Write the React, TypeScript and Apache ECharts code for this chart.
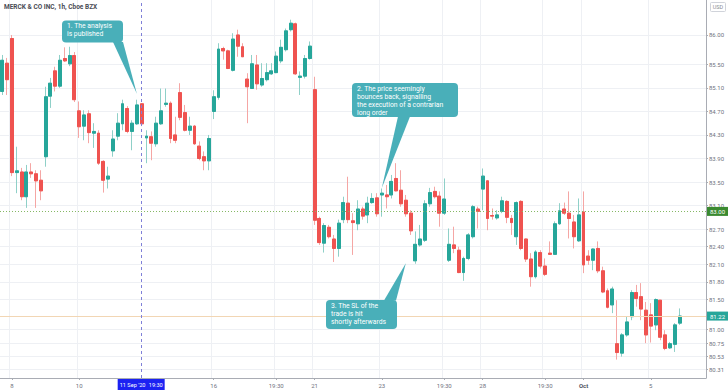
import React, { useEffect, useRef } from 'react';
import * as echarts from 'echarts';

// ---- data (1h candles, MRK, Sep 4 2020 -> Oct 5 2020) ----
const opens = [
  85.04, 85.52, 85.94, 83.66, 83.67, 83.25, 83.67, 83.64, 83.53, 83.93,
  84.96, 85.39, 85.13, 85.60, 85.51, 85.65, 84.71, 84.45, 84.66, 84.33,
  84.33, 83.85, 83.55, 84.03, 84.28, 84.49, 84.75, 84.36, 84.49, 84.83,
  84.25, 84.27, 84.15, 84.49, 84.82, 84.84, 84.30, 85.02, 84.68, 84.38,
  84.45, 84.11, 83.93, 83.86, 84.70, 84.94, 85.77, 85.73, 85.40, 86.00,
  85.80, 85.25, 85.09, 85.49, 85.15, 85.24, 85.34, 85.36, 85.56, 85.75,
  86.09, 86.19, 85.28, 85.30, 85.60, 85.07, 82.88, 82.46, 82.73, 82.53,
  82.37, 82.86, 83.14, 82.84, 82.79, 83.04, 82.94, 83.15, 83.23, 83.28,
  83.28, 83.28, 83.56, 83.36, 83.19, 82.97, 82.16, 82.43, 82.51, 83.13,
  83.34, 83.26, 82.97, 82.17, 82.43, 82.34, 81.96, 82.20, 82.57, 83.04,
  83.38, 83.52, 82.93, 82.89, 83.00, 83.17, 82.88, 82.57, 83.17, 82.53,
  82.19, 81.89, 82.30, 82.07, 82.29, 82.27, 82.79, 83.04, 82.97, 82.82,
  82.50, 82.99, 82.24, 82.17, 82.37, 81.99, 81.65, 81.41, 80.75, 80.59,
  80.90, 81.21, 81.62, 81.55, 81.32, 81.24, 81.07, 81.49, 80.90, 80.68,
  80.74, 81.10,
];
const closes = [
  85.57, 85.24, 83.66, 83.69, 83.25, 83.67, 83.64, 83.52, 83.35, 84.95,
  85.18, 85.13, 85.57, 85.56, 85.65, 84.90, 84.44, 84.64, 84.34, 84.36,
  83.82, 83.53, 83.60, 84.23, 84.50, 84.83, 84.36, 84.50, 84.81, 84.49,
  84.28, 84.16, 84.50, 84.71, 84.84, 84.24, 84.21, 84.60, 84.38, 84.45,
  84.15, 83.90, 83.86, 84.24, 84.95, 85.76, 85.73, 85.43, 85.93, 85.81,
  85.63, 85.12, 85.51, 85.17, 85.26, 85.36, 85.39, 85.64, 85.79, 86.07,
  86.20, 85.34, 85.30, 85.60, 85.81, 82.85, 82.47, 82.76, 82.57, 82.37,
  82.80, 83.15, 82.86, 82.81, 83.04, 82.92, 83.14, 83.22, 82.96, 83.31,
  83.25, 83.51, 83.35, 83.13, 82.96, 82.67, 82.44, 82.53, 83.13, 83.32,
  83.25, 82.97, 83.21, 82.44, 82.37, 81.96, 82.20, 82.60, 83.08, 83.00,
  83.60, 82.88, 82.92, 82.94, 83.18, 82.90, 82.81, 83.15, 82.37, 82.19,
  81.89, 82.31, 82.07, 81.93, 82.27, 82.79, 83.01, 82.97, 82.88, 82.57,
  82.94, 82.09, 82.17, 82.36, 81.99, 81.63, 81.37, 81.68, 80.60, 80.90,
  81.12, 81.62, 81.52, 81.34, 80.90, 81.05, 81.50, 80.86, 80.67, 80.75,
  81.07, 81.22,
];
const lows = [
  84.98, 84.98, 83.60, 83.31, 83.19, 83.06, 83.57, 83.06, 83.19, 83.76,
  84.76, 85.04, 85.10, 85.54, 85.47, 84.86, 84.25, 84.21, 84.16, 84.08,
  83.79, 83.32, 83.39, 83.93, 84.21, 84.38, 84.33, 84.04, 84.47, 84.45,
  83.82, 83.87, 84.10, 84.47, 84.78, 84.16, 84.16, 84.55, 84.36, 84.30,
  84.13, 83.87, 83.70, 83.70, 84.57, 84.90, 85.58, 85.42, 85.38, 85.63,
  85.63, 84.50, 85.09, 85.07, 85.12, 85.21, 85.32, 85.35, 85.52, 85.72,
  86.06, 85.32, 84.98, 85.26, 85.58, 82.77, 82.43, 82.30, 82.54, 82.14,
  82.23, 82.80, 82.80, 82.26, 82.68, 82.86, 82.80, 83.13, 82.91, 82.91,
  83.05, 83.22, 83.34, 83.08, 82.91, 82.60, 82.11, 82.40, 82.48, 83.08,
  83.22, 82.74, 82.94, 82.14, 82.29, 81.95, 81.82, 82.17, 82.54, 82.71,
  83.02, 82.68, 82.86, 82.86, 82.97, 82.80, 82.60, 82.43, 82.34, 82.14,
  81.72, 81.86, 82.03, 81.90, 82.27, 82.26, 82.77, 82.94, 82.54, 82.37,
  82.48, 81.95, 82.09, 82.00, 81.95, 81.61, 81.35, 81.27, 80.48, 80.53,
  80.87, 81.15, 81.38, 81.15, 80.76, 80.77, 80.98, 80.81, 80.64, 80.66,
  80.61, 81.07,
];
const highs = [
  85.66, 85.61, 86.00, 84.10, 83.74, 83.79, 83.82, 83.70, 83.70, 85.12,
  85.27, 85.46, 85.66, 85.79, 85.80, 85.71, 84.87, 84.72, 84.72, 84.50,
  84.38, 83.87, 83.76, 84.38, 84.67, 84.90, 84.79, 84.55, 84.90, 84.84,
  84.38, 84.36, 84.61, 85.09, 85.09, 84.87, 84.61, 85.18, 84.81, 84.61,
  84.47, 84.19, 84.02, 84.30, 85.06, 85.86, 85.80, 85.75, 86.03, 86.09,
  85.86, 85.35, 85.66, 85.66, 85.52, 85.52, 85.52, 85.72, 85.92, 86.11,
  86.26, 86.21, 85.38, 85.66, 85.89, 85.29, 82.91, 82.80, 82.77, 82.60,
  82.86, 83.25, 83.59, 82.97, 83.19, 83.08, 83.25, 83.31, 83.31, 83.39,
  83.45, 83.62, 83.82, 83.70, 83.28, 83.02, 82.66, 82.77, 83.19, 83.40,
  83.42, 83.34, 83.56, 82.71, 82.74, 82.40, 82.23, 82.63, 83.11, 83.08,
  83.73, 83.53, 83.05, 83.02, 83.25, 83.19, 82.94, 83.17, 83.19, 82.54,
  82.29, 82.34, 82.34, 82.20, 82.49, 82.83, 83.14, 83.15, 83.34, 82.94,
  83.22, 83.34, 82.34, 82.37, 82.49, 82.06, 81.69, 81.72, 81.49, 80.93,
  81.21, 81.66, 81.75, 81.78, 81.46, 81.44, 81.52, 81.49, 80.98, 80.78,
  81.10, 81.35,
];
const emptySlots = 5;

const xTickIndex = [2, 16, 44, 57, 65, 79, 92, 100, 113, 121, 135];
const xTickLabels = ['8', '10', '16', '19:30', '21', '23', '19:30', '28', '19:30', 'Oct', '5'];
const yTickValues = [86.0, 85.5, 85.1, 84.7, 84.3, 83.9, 83.5, 83.1, 82.7, 82.4, 82.1, 81.8, 81.5, 81.0, 80.75, 80.53, 80.31];
const yMin = 80.167;
const yMax = 86.595;

const alertLevel = 83.0;
const lastPrice = 81.22;
const cursorIndex = 29;
const cursorDate = "11 Sep '20";
const cursorTime = '19:30';
const chartTitle = 'MERCK & CO INC, 1h, Cboe BZX';
const currency = 'USD';

const calloutTexts = [
  '1. The analysis\nis published',
  '2. The price seemingly\nbounces back, signalling\nthe execution of a contrarian\nlong order',
  '3. The SL of the\ntrade is hit\nshortly afterwards',
];
const calloutAnchors: [number, number][] = [[28, 85.0], [79, 83.4], [84, 82.12]];

// layout of callout boxes (pixels)
const calloutBoxes = [
  { x: 62, y: 20.5, w: 61, h: 22, b0: 113, b1: 123, side: 'bottom' },
  { x: 352, y: 83, w: 106, h: 34, b0: 398, b1: 410, side: 'bottom' },
  { x: 326, y: 300, w: 71, h: 29, b0: 384, b1: 396, side: 'top' },
];

const UP = '#26a69a';
const DOWN = '#ef5350';
const CALLOUT = '#49afb9';

export default function App() {
  const ref = useRef<HTMLDivElement>(null);

  useEffect(() => {
    document.body.style.margin = '0';
    if (!ref.current) return;
    const chart = echarts.init(ref.current, undefined, { renderer: 'svg' });
    const n = opens.length + emptySlots;
    const cats = Array.from({ length: n }, (_, i) => String(i));
    const tickMap = new Map<number, string>(xTickIndex.map((v, k) => [v, xTickLabels[k]]));
    const isTick = (i: number) => tickMap.has(i);

    const wickData = opens.map((o, i) => [o, closes[i], lows[i], highs[i]]);
    const bodyData = opens.map((o, i) => [o, closes[i], Math.min(o, closes[i]), Math.max(o, closes[i])]);

    chart.setOption({
      animation: false,
      backgroundColor: '#ffffff',
      textStyle: { fontFamily: 'Roboto' },
      grid: { left: 0, right: 22, top: 0, bottom: 13, containLabel: false },
      xAxis: {
        type: 'category',
        data: cats,
        boundaryGap: true,
        axisLine: { lineStyle: { color: '#a9acb4', width: 1 } },
        axisTick: { show: true, alignWithLabel: true, interval: (i: number) => isTick(i), length: 2, lineStyle: { color: '#a9acb4' } },
        axisLabel: {
          interval: (i: number) => isTick(i),
          formatter: (v: string) => {
            const t = tickMap.get(Number(v)) || '';
            return t === 'Oct' ? '{b|Oct}' : t;
          },
          fontSize: 6,
          color: '#707380',
          margin: 4,
          rich: { b: { fontSize: 6, fontWeight: 'bold', color: '#50535e' } },
        },
        splitLine: { show: true, interval: (i: number) => isTick(i), lineStyle: { color: '#eef0f4', width: 1 } },
      },
      yAxis: {
        type: 'value',
        position: 'right',
        min: yMin,
        max: yMax,
        axisLine: { show: true, lineStyle: { color: '#a9acb4', width: 1 } },
        axisTick: { show: true, length: 2, customValues: yTickValues, lineStyle: { color: '#a9acb4' } },
        axisLabel: {
          customValues: yTickValues,
          formatter: (v: number) => v.toFixed(2),
          fontSize: 6,
          color: '#707380',
          margin: 3,
        },
        splitLine: { show: true, lineStyle: { color: '#eef0f4', width: 1 } },
      },
      series: [
        {
          type: 'candlestick',
          name: 'wick',
          data: wickData,
          barWidth: 3.4,
          silent: true,
          itemStyle: {
            color: 'rgba(0,0,0,0)',
            color0: 'rgba(0,0,0,0)',
            borderColor: '#8fd0c8',
            borderColor0: '#f5a6a4',
            borderWidth: 1,
          },
        },
        {
          type: 'candlestick',
          name: 'body',
          data: bodyData,
          barWidth: 3.4,
          silent: true,
          itemStyle: { color: UP, color0: DOWN, borderColor: UP, borderColor0: DOWN, borderWidth: 1 },
          markLine: {
            symbol: 'none',
            silent: true,
            animation: false,
            data: [
              {
                yAxis: alertLevel,
                lineStyle: { color: '#86b865', type: [1, 2], width: 1 },
                label: {
                  show: true, position: 'end', formatter: alertLevel.toFixed(2), backgroundColor: '#3a8a30',
                  color: '#ffffff', fontSize: 6, padding: [2, 3, 1, 3], distance: 1,
                },
              },
              {
                yAxis: lastPrice,
                lineStyle: { color: '#f2d6b4', type: 'solid', width: 1 },
                label: {
                  show: true, position: 'end', formatter: lastPrice.toFixed(2), backgroundColor: UP,
                  color: '#ffffff', fontSize: 6, padding: [2, 3, 1, 3], distance: 1,
                },
              },
              {
                xAxis: String(cursorIndex),
                lineStyle: { color: '#7f80d8', type: [3, 3], width: 1 },
                label: { show: false },
              },
            ],
          },
        },
      ],
    });

    const px = (i: number, v: number) => chart.convertToPixel({ xAxisIndex: 0, yAxisIndex: 0 }, [i, v]) as number[];
    const graphics: any[] = [];
    graphics.push({
      type: 'text', x: 4, y: 3, z: 100,
      style: { text: chartTitle, fontSize: 6.5, fontWeight: 'bold', fontFamily: 'Roboto', fill: '#4a4c55', align: 'left', verticalAlign: 'top' },
    });
    graphics.push({
      type: 'rect', z: 100, shape: { x: 710.5, y: 2.5, width: 15, height: 9, r: 1 },
      style: { fill: '#fff', stroke: '#d0d3da', lineWidth: 1 },
    });
    graphics.push({
      type: 'text', z: 101, x: 718, y: 7,
      style: { text: currency, fontSize: 5.5, fontFamily: 'Roboto', fill: '#8a8d96', align: 'center', verticalAlign: 'middle' },
    });

    calloutBoxes.forEach((b, k) => {
      const tip = px(calloutAnchors[k][0], calloutAnchors[k][1]);
      const by = b.side === 'bottom' ? b.y + b.h - 0.5 : b.y + 0.5;
      graphics.push({
        type: 'polygon', z: 110,
        shape: { points: [[b.b0, by], [b.b1, by], [tip[0], tip[1]]] },
        style: { fill: CALLOUT },
      });
      graphics.push({
        type: 'rect', z: 111,
        shape: { x: b.x, y: b.y, width: b.w, height: b.h, r: 4 },
        style: { fill: CALLOUT },
      });
      graphics.push({
        type: 'text', z: 112, x: b.x + 5, y: b.y + 1.5,
        style: {
          text: calloutTexts[k], fontSize: 6.8, lineHeight: 8, fontFamily: 'Roboto',
          fill: '#ffffff', align: 'left', verticalAlign: 'top',
        },
      });
    });

    const cx = px(cursorIndex, yMin)[0];
    graphics.push({
      type: 'rect', z: 120, shape: { x: cx - 24, y: 379, width: 47, height: 11 },
      style: { fill: '#1c22f2' },
    });
    graphics.push({
      type: 'text', z: 121, x: cx - 22, y: 384.8,
      style: { text: cursorDate, fontSize: 5.6, fontFamily: 'Roboto', fill: '#ffffff', align: 'left', verticalAlign: 'middle' },
    });
    graphics.push({
      type: 'text', z: 121, x: cx + 21, y: 384.8,
      style: { text: cursorTime, fontSize: 5.6, fontFamily: 'Roboto', fill: '#ffffff', align: 'right', verticalAlign: 'middle' },
    });

    chart.setOption({ graphic: graphics });

    return () => chart.dispose();
  }, []);

  return <div ref={ref} style={{ position: 'absolute', left: 0, top: 0, width: 728, height: 391 }} />;
}
